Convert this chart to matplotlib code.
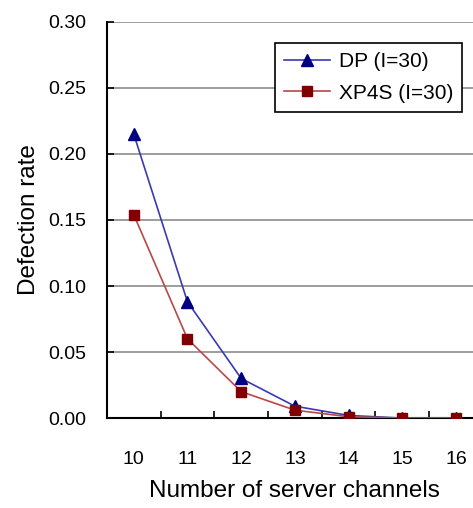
import matplotlib
matplotlib.use('Agg')
import matplotlib.pyplot as plt

# Data
channels = [10, 11, 12, 13, 14, 15, 16]
dp_rate = [0.215, 0.088, 0.030, 0.009, 0.002, 0.0, 0.0]
xp4s_rate = [0.154, 0.060, 0.020, 0.006, 0.001, 0.0, 0.0]
y_ticks = [0.0, 0.05, 0.10, 0.15, 0.20, 0.25, 0.30]

plt.rcParams['font.family'] = ['Liberation Sans', 'DejaVu Sans']

fig = plt.figure(figsize=(4.73, 5.08), dpi=100)
ax = fig.add_axes([0.226, 0.177, 0.795, 0.780])

# Grid lines (Excel style)
for v in y_ticks:
    ax.axhline(v, color='#8c8c8c', linewidth=1.2, zorder=0)

ax.plot(channels, dp_rate, color='#3a3ab0', linewidth=1.2, marker='^',
        markersize=8, markerfacecolor='#000080', markeredgecolor='#000080',
        label='DP (I=30)', zorder=3)
ax.plot(channels, xp4s_rate, color='#b84848', linewidth=1.2, marker='s',
        markersize=7.5, markerfacecolor='#800000', markeredgecolor='#800000',
        label='XP4S (I=30)', zorder=3)

ax.set_xlim(9.5, 16.5)
ax.set_ylim(0, 0.30)
ax.set_yticks(y_ticks)
ax.set_yticklabels([f'{v:.2f}' for v in y_ticks])
ax.set_xticks(channels)
ax.set_xticks([c + 0.5 for c in channels[:-1]], minor=True)

ax.spines['top'].set_visible(False)
ax.spines['right'].set_visible(False)
for s in ('left', 'bottom'):
    ax.spines[s].set_linewidth(1.5)
    ax.spines[s].set_color('black')

ax.tick_params(axis='x', which='major', length=0, pad=24, labelsize=14)
ax.tick_params(axis='x', which='minor', direction='in', length=5, width=1.2)
ax.tick_params(axis='y', direction='in', length=5, width=1.2, pad=15, labelsize=14)

ax.set_xlabel('Number of server channels', fontsize=17.5, labelpad=8)
ax.set_ylabel('Defection rate', fontsize=17.5, labelpad=6)

leg = ax.legend(loc='upper left', bbox_to_anchor=(0.447, 0.947), fontsize=15,
                frameon=True, fancybox=False, edgecolor='black',
                framealpha=1, handlelength=2.2, handletextpad=0.4,
                borderpad=0.45, labelspacing=0.6, borderaxespad=0)
leg.get_frame().set_linewidth(1.2)

fig.savefig('out.png', dpi=100)
